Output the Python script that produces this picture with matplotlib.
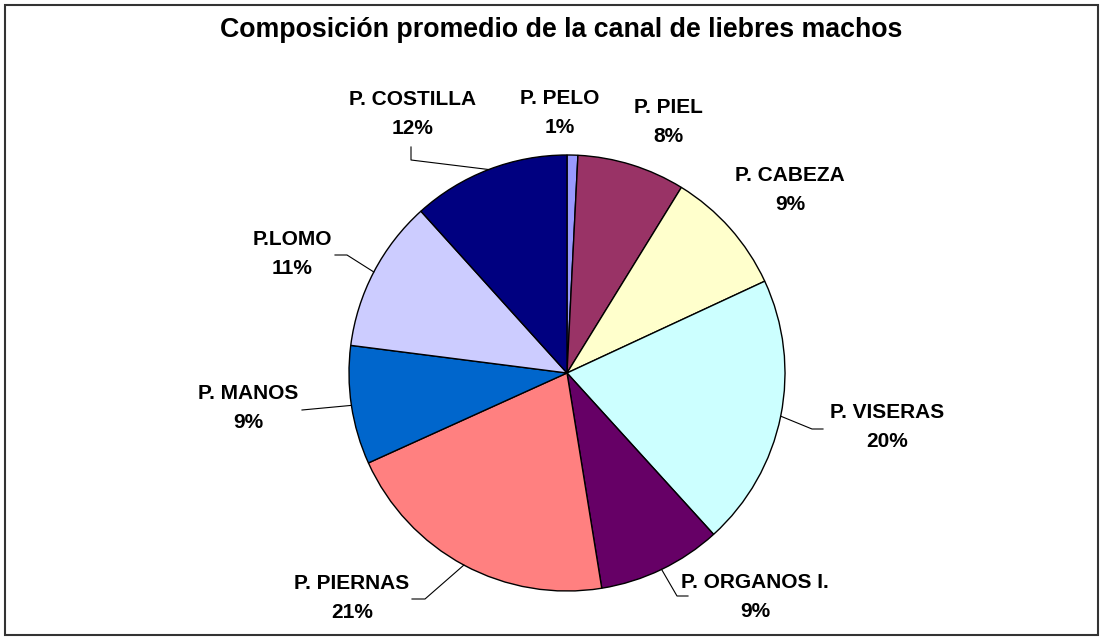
import matplotlib
matplotlib.use("Agg")
import matplotlib.pyplot as plt
from matplotlib.patches import Rectangle
import numpy as np

# Data (percent of carcass)
labels = ["P. PELO", "P. PIEL", "P. CABEZA", "P. VISERAS", "P. ORGANOS I.",
          "P. PIERNAS", "P. MANOS", "P.LOMO", "P. COSTILLA"]
values = [0.8, 8.0, 9.3, 20.2, 9.2, 20.8, 8.8, 11.3, 11.7]
colors = ["#9999FF", "#993366", "#FFFFCC", "#CCFFFF", "#660066",
          "#FF8080", "#0066CC", "#CCCCFF", "#000080"]
title = "Composición promedio de la canal de liebres machos"

W, H = 1102, 639
fig = plt.figure(figsize=(W / 100, H / 100), dpi=100)
ax = fig.add_axes([0, 0, 1, 1])

# pie centre and radius in pixels (y down)
cx, cy, r = 567, 373, 218

# y axis is inverted, so counterclock=True draws clockwise on screen
wedges, _ = ax.pie(values, colors=colors, startangle=-90, counterclock=True,
                   center=(cx, cy), radius=r, frame=True,
                   wedgeprops=dict(edgecolor="black", linewidth=1.0))
ax.set_xlim(0, W)
ax.set_ylim(H, 0)
ax.set_aspect("equal")
ax.axis("off")

total = sum(values)
pct = [round(v / total * 100) for v in values]

# label centres (pixels) and leader line points after the wedge edge
label_pos = {
    "P. PELO": (560, 113), "P. PIEL": (668, 122), "P. CABEZA": (790, 190),
    "P. VISERAS": (887, 427), "P. ORGANOS I.": (755, 597), "P. PIERNAS": (352, 598),
    "P. MANOS": (248, 408), "P.LOMO": (292, 254), "P. COSTILLA": (413, 114),
}
leaders = {
    "P. VISERAS": [(812, 429), (823, 429)],
    "P. ORGANOS I.": [(677, 596), (688, 596)],
    "P. PIERNAS": [(425, 599), (412, 599)],
    "P. MANOS": [(302, 410)],
    "P.LOMO": [(347, 255), (335, 255)],
    "P. COSTILLA": [(411, 160), (411, 147)],
}

for w, lab, p in zip(wedges, labels, pct):
    mid = np.deg2rad((w.theta1 + w.theta2) / 2)
    ex, ey = cx + r * np.cos(mid), cy + r * np.sin(mid)
    if lab in leaders:
        pts = [(ex, ey)] + leaders[lab]
        ax.plot([q[0] for q in pts], [q[1] for q in pts], color="black", lw=0.8)
    tx, ty = label_pos[lab]
    ax.text(tx, ty, f"{lab}\n{p}%", ha="center", va="center",
            fontsize=15, fontweight="bold", family="Liberation Sans",
            linespacing=1.72)

ax.text(W / 2 + 10, 30, title, ha="center", va="center", fontsize=19.3,
        fontweight="bold", family="Liberation Sans")

# outer chart border
ax.add_patch(Rectangle((4.5, 4.5), W - 9, H - 9, fill=False,
                       edgecolor="#333333", lw=1.5))

fig.savefig("out.png", dpi=100)
